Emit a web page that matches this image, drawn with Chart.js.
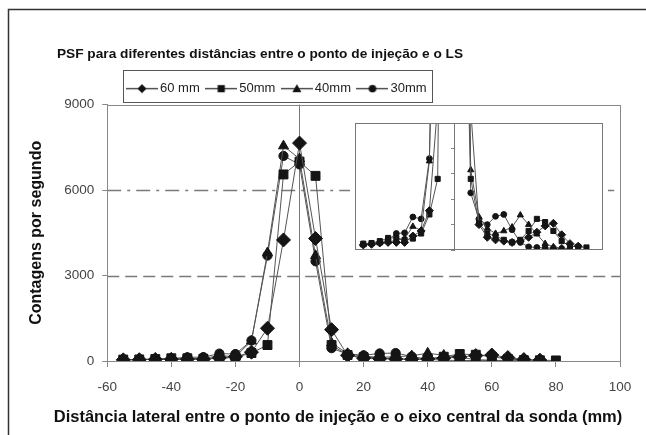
<!DOCTYPE html>
<html>
<head>
<meta charset="utf-8">
<script src="https://cdn.jsdelivr.net/npm/chart.js@4.4.1/dist/chart.umd.min.js"></script>
<style>
html, body { margin: 0; padding: 0; background: #fff; }
#wrap { position: relative; width: 646px; height: 435px; }
#main { position: absolute; left: 0; top: 0; }
#inset { position: absolute; left: 350px; top: 118px; background: #fff; }
</style>
</head>
<body>
<div id="wrap">
  <canvas id="main" width="646" height="435"></canvas>
  <canvas id="inset" width="258" height="137"></canvas>
</div>
<script>
// distances (mm) and counts per second
const distances = [-55, -50, -45, -40, -35, -30, -25, -20, -15, -10, -5, 0, 5, 10, 15, 20, 25, 30, 35, 40, 45, 50, 55, 60, 65, 70, 75, 80];
const counts60 = [40, 45, 55, 60, 60, 60, 110, 150, 310, 1150, 4250, 7650, 4300, 1100, 200, 100, 80, 70, 60, 70, 100, 140, 190, 210, 120, 50, 30];
const counts50 = [50, 55, 70, 95, 95, 80, 90, 130, 280, 560, 6550, 7000, 6500, 560, 210, 130, 110, 80, 60, 80, 150, 245, 220, 150, 70, 30, 25, 20];
const counts40 = [40, 50, 55, 65, 75, 90, 185, 155, 700, 3800, 7550, 7100, 3700, 630, 260, 170, 130, 150, 180, 275, 200, 125, 50, 25, 15, 10];
const counts30 = [45, 50, 60, 80, 130, 135, 260, 245, 720, 3700, 7200, 6900, 3500, 450, 240, 200, 265, 280, 160, 60, 25, 20, 15, 15, 12];
const seriesNames = ['60 mm', '50mm', '40mm', '30mm'];
const markers = ['rectRot', 'rect', 'triangle', 'circle'];

const xRange = [-60, 100, 20];
const yRange = [0, 9000, 3000];
const insetXRange = [-60, 90];
const insetYRange = [0, 1000];
const refLines = [3000, 6000];

const chartTitle = 'PSF para diferentes distâncias entre o ponto de injeção e o LS';
const xTitle = 'Distância lateral entre o ponto de injeção e o eixo central da sonda (mm)';
const yTitle = 'Contagens por segundo';

const FONT = "'Liberation Sans', Arial, sans-serif";
const allCounts = [counts60, counts50, counts40, counts30];

function points(arr) {
    return arr.map((v, i) => ({ x: distances[i], y: v }));
}

// little line+marker pictures for the legend
function drawMarker(ctx, style, x, y, s) {
    ctx.beginPath();
    if (style == 'rectRot') {
        ctx.moveTo(x - s, y); ctx.lineTo(x, y - s); ctx.lineTo(x + s, y); ctx.lineTo(x, y + s);
    } else if (style == 'rect') {
        ctx.rect(x - s * 0.8, y - s * 0.8, s * 1.6, s * 1.6);
    } else if (style == 'triangle') {
        ctx.moveTo(x, y - s); ctx.lineTo(x + s, y + s * 0.8); ctx.lineTo(x - s, y + s * 0.8);
    } else {
        ctx.arc(x, y, s * 0.85, 0, Math.PI * 2);
    }
    ctx.closePath();
    ctx.fill();
}
const legendIcons = markers.map(m => {
    const c = document.createElement('canvas');
    c.width = 32; c.height = 14;
    const g = c.getContext('2d');
    g.strokeStyle = '#333'; g.lineWidth = 1.3;
    g.beginPath(); g.moveTo(0, 7.5); g.lineTo(32, 7.5); g.stroke();
    g.fillStyle = '#111';
    drawMarker(g, m, 16, 7.5, 4.5);
    return c;
});

const mainRadius = { rectRot: 7, rect: 6.3, triangle: 5.8, circle: 4.6 };
const insetRadius = { rectRot: 4, rect: 3.6, triangle: 3.6, circle: 2.9 };

function makeDatasets(radius) {
    return allCounts.map((arr, i) => ({
        label: seriesNames[i],
        data: points(arr),
        borderColor: '#555',
        borderWidth: 1,
        pointStyle: markers[i],
        pointRadius: radius[markers[i]],
        pointBackgroundColor: '#151515',
        pointBorderColor: '#151515',
        pointBorderWidth: 1,
        tension: 0
    }));
}

const mainDecor = {
    id: 'mainDecor',
    afterLayout(chart) {
        chart.titleBlock.left = 0;
        chart.titleBlock.right = 520;
        const sub = chart.boxes.find(b => b.options && b.options.text === xTitle);
        if (sub) { sub.left = 50; sub.right = 626; }
        chart.legend.left = 120.5;
        chart.legend.right = 646;
    },
    beforeDatasetsDraw(chart) {
        const { ctx, chartArea: a } = chart;
        const y = chart.scales.y;
        ctx.save();
        ctx.strokeStyle = '#7a7a7a';
        ctx.lineWidth = 1.5;
        refLines.forEach((v, i) => {
            const py = Math.round(y.getPixelForValue(v)) + 0.5;
            ctx.setLineDash(i == 0 ? [12, 6] : [14, 6, 3, 6]);
            ctx.beginPath(); ctx.moveTo(a.left, py); ctx.lineTo(a.right, py); ctx.stroke();
        });
        ctx.setLineDash([]);
        ctx.lineWidth = 1;
        ctx.strokeStyle = '#888';
        ctx.strokeRect(Math.round(a.left) + 0.5, Math.round(a.top) + 0.5, Math.round(a.right - a.left), Math.round(a.bottom - a.top));
        ctx.restore();
    },
    afterDraw(chart) {
        const { ctx } = chart;
        const lg = chart.legend;
        ctx.save();
        ctx.strokeStyle = '#555';
        ctx.lineWidth = 1;
        const pad = lg.options.labels.padding;
        const x0 = lg.left + pad - 8;
        const x1 = lg.left + pad + lg.lineWidths[0] - pad + 5;
        ctx.strokeRect(Math.round(x0) + 0.5, Math.round(lg.top) - 1.5, Math.round(x1 - x0), Math.round(lg.bottom - lg.top - 1));
        // outer frame
        ctx.strokeStyle = '#333';
        ctx.lineWidth = 1.5;
        ctx.beginPath();
        ctx.moveTo(8.5, 435); ctx.lineTo(8.5, 9.5); ctx.lineTo(646, 9.5);
        ctx.stroke();
        ctx.restore();
    }
};

const tickFont = { family: FONT, size: 13.5 };
const legendFont = { family: FONT, size: 13 };
const titleFont = { family: FONT, size: 13.7, weight: 'bold' };
const xTitleFont = { family: FONT, size: 16.5, weight: 'bold' };

const mainChart = new Chart(document.querySelector('#main'), {
    type: 'line',
    data: { datasets: makeDatasets(mainRadius) },
    options: {
        responsive: false,
        animation: false,
        devicePixelRatio: 1,
        layout: { padding: { left: 8, right: 26, top: 0, bottom: 0 } },
        plugins: {
            title: {
                display: true, text: chartTitle, font: titleFont, color: '#111',
                padding: { top: 46.5, bottom: 8.7 }
            },
            subtitle: {
                display: true, position: 'bottom', text: xTitle, font: xTitleFont, color: '#111',
                padding: { top: 0, bottom: 8 }
            },
            legend: {
                align: 'start',
                labels: {
                    usePointStyle: true,
                    pointStyleWidth: 23,
                    padding: 10,
                    font: legendFont,
                    color: '#222',
                    generateLabels(chart) {
                        const items = Chart.defaults.plugins.legend.labels.generateLabels(chart);
                        items.forEach((it, i) => { it.pointStyle = legendIcons[i]; });
                        return items;
                    }
                }
            },
            tooltip: { enabled: false }
        },
        scales: {
            x: {
                type: 'linear',
                min: xRange[0], max: xRange[1],
                ticks: { stepSize: xRange[2], font: tickFont, color: '#444', padding: 12 },
                grid: {
                    color: c => (c.tick && c.tick.value === 0) ? '#777' : 'rgba(0,0,0,0)',
                    tickColor: '#888',
                    tickLength: 6
                },
                border: { color: '#888' }
            },
            y: {
                min: yRange[0], max: yRange[1],
                ticks: { stepSize: yRange[2], font: tickFont, color: '#444', padding: 8, callback: v => String(v) },
                grid: { drawOnChartArea: false, tickColor: '#888', tickLength: 5 },
                border: { color: '#888' },
                title: {
                    display: true, text: yTitle, color: '#111',
                    font: { family: FONT, size: 16, weight: 'bold' },
                    padding: { top: 19, bottom: 10 }
                }
            }
        }
    },
    plugins: [mainDecor]
});

const insetFrame = {
    id: 'insetFrame',
    afterDraw(chart) {
        const { ctx, chartArea: a } = chart;
        ctx.save();
        ctx.strokeStyle = '#777';
        ctx.lineWidth = 1;
        ctx.strokeRect(a.left + 0.5, a.top + 0.5, a.right - a.left - 1, a.bottom - a.top - 1);
        ctx.restore();
    }
};

const insetChart = new Chart(document.querySelector('#inset'), {
    type: 'line',
    data: { datasets: makeDatasets(insetRadius) },
    options: {
        responsive: false,
        animation: false,
        devicePixelRatio: 1,
        layout: { padding: 0 },
        plugins: { legend: { display: false }, tooltip: { enabled: false } },
        scales: {
            x: { type: 'linear', min: insetXRange[0], max: insetXRange[1], display: false },
            y: {
                min: insetYRange[0], max: insetYRange[1],
                position: { x: 0 },
                ticks: { display: false, stepSize: 200 },
                grid: { drawOnChartArea: false, tickColor: '#888', tickLength: 3 },
                border: { color: '#777' }
            }
        }
    },
    plugins: [insetFrame]
});
</script>
</body>
</html>
